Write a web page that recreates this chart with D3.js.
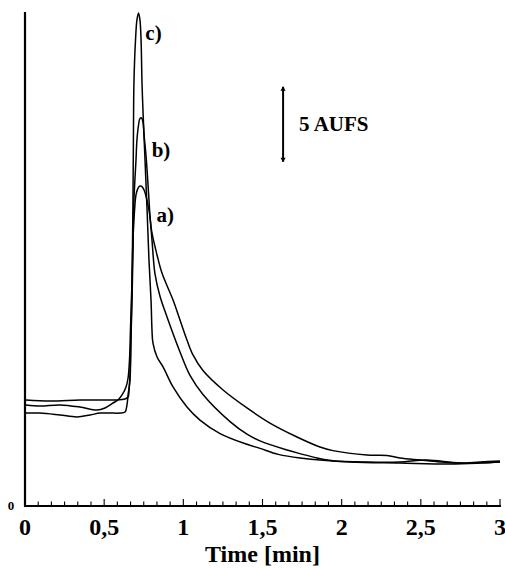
<!DOCTYPE html>
<html>
<head>
<meta charset="utf-8">
<script src="https://cdn.jsdelivr.net/npm/d3@7"></script>
<style>
  html, body { margin: 0; padding: 0; background: #fff; }
  svg { display: block; }
  text { font-family: "Liberation Serif", "DejaVu Serif", serif; font-weight: bold; fill: #000; }
</style>
</head>
<body>
<svg id="chart" width="505" height="568"></svg>
<script>
// Chromatogram traces: [time in min, detector signal in AUFS]
const traceA = [
  [0.006, 6.75], [0.095, 6.68], [0.221, 6.75], [0.347, 6.61], [0.455, 6.41], [0.505, 6.55],
  [0.556, 6.88], [0.587, 7.08], [0.613, 7.42], [0.638, 7.95], [0.651, 8.55], [0.660, 9.75],
  [0.666, 11.76], [0.676, 15.10], [0.682, 17.77], [0.692, 19.77], [0.701, 20.78], [0.714, 21.24],
  [0.726, 21.38], [0.739, 21.34], [0.752, 21.11], [0.764, 20.71], [0.783, 19.77], [0.802, 18.24],
  [0.834, 16.77], [0.865, 15.56], [0.935, 13.76], [0.979, 12.42], [1.023, 11.09], [1.061, 10.09],
  [1.124, 9.05], [1.251, 7.75], [1.402, 6.55], [1.547, 5.54], [1.718, 4.61], [1.863, 3.94],
  [1.945, 3.70], [2.160, 3.41], [2.286, 3.38], [2.368, 3.21], [2.495, 3.07], [2.621, 2.94],
  [2.747, 2.87], [2.874, 2.94], [3.0, 3.01]
];
const traceB = [
  [0.006, 7.08], [0.158, 7.01], [0.347, 7.08], [0.474, 7.08], [0.568, 7.08], [0.632, 7.15],
  [0.651, 7.28], [0.657, 7.75], [0.663, 8.75], [0.669, 11.09], [0.676, 13.76], [0.682, 17.10],
  [0.688, 20.44], [0.701, 23.11], [0.707, 24.45], [0.717, 25.45], [0.726, 25.89], [0.736, 25.92],
  [0.745, 25.65], [0.752, 24.78], [0.764, 23.45], [0.771, 22.44], [0.783, 20.44], [0.789, 19.44],
  [0.802, 17.77], [0.821, 15.50], [0.853, 13.99], [0.897, 12.63], [0.979, 10.29], [1.042, 8.72],
  [1.124, 7.45], [1.295, 5.64], [1.402, 4.80], [1.484, 4.35], [1.655, 3.74], [1.737, 3.50],
  [1.844, 3.21], [1.945, 3.03], [2.160, 2.94], [2.368, 2.94], [2.539, 3.07], [2.747, 2.87],
  [3.0, 2.94]
];
const traceC = [
  [0.006, 6.21], [0.095, 6.21], [0.221, 6.08], [0.328, 5.95], [0.411, 6.08], [0.474, 6.21],
  [0.537, 6.21], [0.600, 6.21], [0.632, 6.28], [0.644, 6.75], [0.651, 7.42], [0.663, 8.42],
  [0.669, 11.09], [0.676, 15.10], [0.682, 20.44], [0.685, 24.92], [0.688, 28.26], [0.698, 31.13],
  [0.707, 32.47], [0.717, 32.94], [0.726, 32.47], [0.733, 31.13], [0.739, 28.26], [0.745, 26.45],
  [0.758, 23.11], [0.771, 19.77], [0.783, 16.43], [0.796, 13.76], [0.802, 11.76], [0.808, 10.89],
  [0.834, 9.95], [0.872, 9.29], [0.935, 7.95], [1.023, 6.61], [1.105, 5.74], [1.232, 4.84],
  [1.402, 4.12], [1.484, 3.85], [1.600, 3.45], [1.737, 3.21], [2.053, 2.94], [2.368, 2.87],
  [2.684, 2.81], [2.874, 2.87], [3.0, 2.94]
];

// Peak labels: text and anchor point [time, signal]
const peakLabels = [
  { text: "a)", t: 0.83, v: 19.0 },
  { text: "b)", t: 0.80, v: 23.3 },
  { text: "c)", t: 0.76, v: 31.1 }
];

const xTickValues = [0, 0.5, 1, 1.5, 2, 2.5, 3];
const xTickLabels = ["0", "0,5", "1", "1,5", "2", "2,5", "3"];
const minorStep = 1 / 12;          // 5 s minor ticks
const scaleBar = { from: 23, to: 28, label: "5 AUFS", t: 1.63 };
const xTitle = "Time [min]";

const svg = d3.select("#chart");

const x = d3.scaleLinear().domain([0, 3]).range([25, 500]);
const y = d3.scaleLinear().domain([0, 33]).range([506, 12]);

// Axes frame
const axisG = svg.append("g");
axisG.append("line")
  .attr("x1", x(0)).attr("x2", x(0))
  .attr("y1", y(33)).attr("y2", y(0))
  .attr("stroke", "#000").attr("stroke-width", 2.2);
axisG.append("line")
  .attr("x1", x(0) - 1).attr("x2", x(3) + 1)
  .attr("y1", y(0)).attr("y2", y(0))
  .attr("stroke", "#000").attr("stroke-width", 2.2);

// Tick marks on the time axis (pointing up into the plot)
const minorTicks = d3.range(1, 36 + 1).map(i => i * minorStep);
axisG.selectAll("line.minor")
  .data(minorTicks)
  .join("line")
  .attr("class", "minor")
  .attr("x1", d => x(d)).attr("x2", d => x(d))
  .attr("y1", y(0)).attr("y2", d => y(0) - (Math.abs(d * 2 - Math.round(d * 2)) < 1e-6 ? 7 : 4.5))
  .attr("stroke", "#000").attr("stroke-width", 1.1);

axisG.selectAll("text.xt")
  .data(xTickValues)
  .join("text")
  .attr("class", "xt")
  .attr("x", d => x(d))
  .attr("y", 535)
  .attr("text-anchor", "middle")
  .attr("font-size", 24)
  .text((d, i) => xTickLabels[i]);

svg.append("text")
  .attr("x", 11).attr("y", y(0) + 4)
  .attr("text-anchor", "middle")
  .attr("font-size", 13)
  .text("0");

svg.append("text")
  .attr("x", x(1.5)).attr("y", 562)
  .attr("text-anchor", "middle")
  .attr("font-size", 24)
  .text(xTitle);

// Traces
const line = d3.line()
  .x(d => x(d[0]))
  .y(d => y(d[1]))
  .curve(d3.curveCatmullRom.alpha(0.5));

[traceA, traceB, traceC].forEach(tr => {
  svg.append("path")
    .datum(tr)
    .attr("d", line)
    .attr("fill", "none")
    .attr("stroke", "#000")
    .attr("stroke-width", 1.5)
    .attr("stroke-linejoin", "round");
});

svg.selectAll("text.peak")
  .data(peakLabels)
  .join("text")
  .attr("class", "peak")
  .attr("x", d => x(d.t))
  .attr("y", d => y(d.v))
  .attr("font-size", 21)
  .text(d => d.text);

// Vertical scale bar with arrow heads
const defs = svg.append("defs");
["start", "end"].forEach(k => {
  defs.append("marker")
    .attr("id", "arr-" + k)
    .attr("viewBox", "0 0 10 10")
    .attr("refX", 5).attr("refY", k === "end" ? 9 : 1)
    .attr("markerWidth", 3.2).attr("markerHeight", 3.2)
    .attr("orient", "0")
    .append("path")
    .attr("d", k === "end" ? "M1,3 L5,10 L9,3 Z" : "M1,7 L5,0 L9,7 Z")
    .attr("fill", "#000");
});
svg.append("line")
  .attr("x1", x(scaleBar.t)).attr("x2", x(scaleBar.t))
  .attr("y1", y(scaleBar.to)).attr("y2", y(scaleBar.from))
  .attr("stroke", "#000").attr("stroke-width", 2)
  .attr("marker-start", "url(#arr-start)")
  .attr("marker-end", "url(#arr-end)");
svg.append("text")
  .attr("x", x(scaleBar.t) + 16)
  .attr("y", y((scaleBar.from + scaleBar.to) / 2) + 7)
  .attr("font-size", 21)
  .text(scaleBar.label);
</script>
</body>
</html>
